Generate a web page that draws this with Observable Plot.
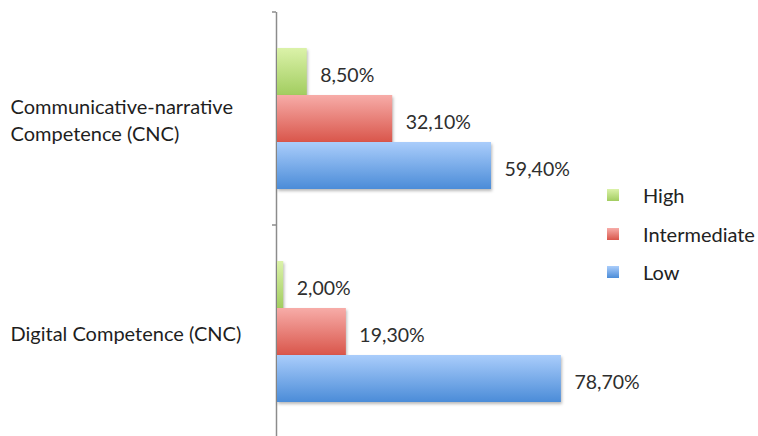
<!DOCTYPE html>
<html><head><meta charset="utf-8">
<script src="https://cdn.jsdelivr.net/npm/d3@7"></script>
<script src="https://cdn.jsdelivr.net/npm/@observablehq/plot@0.6"></script>
<style>
html,body{margin:0;padding:0;background:#fff;overflow:hidden;}
#chart{position:relative;width:758px;height:436px;}
#legend{position:absolute;left:607px;top:176px;font-family:Lato,"Open Sans",sans-serif;font-size:20px;color:#222;}
#legend .row{height:38.5px;display:flex;align-items:center;}
#legend .sw{width:12px;height:12px;margin-right:24px;display:inline-block;}
#defs{position:absolute;width:0;height:0;}
</style></head>
<body>
<svg id="defs" width="0" height="0"></svg>
<div id="chart"></div>
<script>
// ---- data ----
const categories = ["Communicative-narrative\nCompetence (CNC)", "Digital Competence (CNC)"];
const levels = ["High", "Intermediate", "Low"];
const highValues = [8.5, 2.0];
const intermediateValues = [32.1, 19.3];
const lowValues = [59.4, 78.7];

// ---- styles ----
const gradients = {
  High: ["#dbf2a9", "#a2cd60"],
  Intermediate: ["#f7aca8", "#d9564b"],
  Low: ["#aacdfb", "#4b8cd8"]
};

const series = {High: highValues, Intermediate: intermediateValues, Low: lowValues};
const rows = categories.flatMap((c, i) => levels.map(l => ({category: c, level: l, value: series[l][i]})));
const fmt = v => d3.format(".2f")(v).replace(".", ",") + "%";

// gradient defs
const defs = d3.select("#defs").append("defs");
levels.forEach(l => {
  const g = defs.append("linearGradient").attr("id", "grad-" + l)
    .attr("x1", 0).attr("y1", 0).attr("x2", 0).attr("y2", 1);
  g.append("stop").attr("offset", "0%").attr("stop-color", gradients[l][0]);
  g.append("stop").attr("offset", "100%").attr("stop-color", gradients[l][1]);
});

const boundaryTick = (index, scales, values, dims) =>
  d3.create("svg:line")
    .attr("x1", dims.marginLeft - 4).attr("x2", dims.marginLeft)
    .attr("y1", dims.marginTop).attr("y2", dims.marginTop)
    .attr("stroke", "#8c8c8c").attr("stroke-width", 1.5).node();

const plot = Plot.plot({
  width: 758, height: 438,
  marginLeft: 276, marginRight: 120, marginTop: 12, marginBottom: 0,
  x: {domain: [0, 100], axis: null},
  y: {domain: levels, paddingInner: 0, paddingOuter: 0.75, axis: null},
  fy: {domain: categories, padding: 0, axis: null},
  style: {fontFamily: "Lato, 'Open Sans', sans-serif", fontSize: "19px", color: "#333", overflow: "visible", background: "#fff"},
  marks: [
    Plot.ruleX([0], {stroke: "#8c8c8c", strokeWidth: 1.5}),
    boundaryTick,
    ...levels.map(l => Plot.barX(rows.filter(r => r.level === l), {
      fy: "category", y: "level", x: "value", fill: `url(#grad-${l})`, insetLeft: 1
    })),
    Plot.text(rows, {fy: "category", y: "level", x: "value", text: r => fmt(r.value),
      textAnchor: "start", dx: 13, dy: 4, fill: "#2e2e2e", fontSize: 19.5}),
    Plot.text(categories, {fy: d => d, text: d => d, frameAnchor: "left", textAnchor: "start",
      dx: -266, dy: 0, lineHeight: 1.33, fill: "#1e1e1e", fontSize: 20})
  ]
});
d3.select(plot).selectAll("g[aria-label=bar] rect").style("filter", "drop-shadow(1px 2px 1.5px rgba(0,0,0,0.28))");
document.getElementById("chart").appendChild(plot);

// legend
const legend = d3.select("#chart").append("div").attr("id", "legend");
levels.forEach(l => {
  const row = legend.append("div").attr("class", "row");
  row.append("span").attr("class", "sw")
    .style("background", `linear-gradient(${gradients[l][0]}, ${gradients[l][1]})`);
  row.append("span").text(l);
});
</script>
</body></html>
